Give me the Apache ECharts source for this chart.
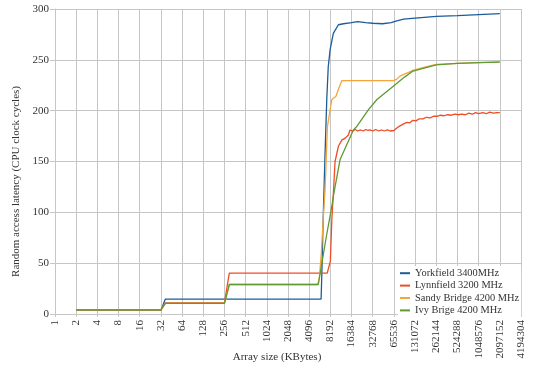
<!DOCTYPE html>
<html>
<head>
<meta charset="utf-8">
<script src="https://cdn.jsdelivr.net/npm/echarts@6/dist/echarts.min.js"></script>
<style>
  html, body { margin: 0; padding: 0; background: #fff; }
  #main { width: 540px; height: 376px; }
</style>
</head>
<body>
<div id="main"></div>
<script>
// array size in KBytes, latency in CPU clock cycles
var seriesNames = ['Yorkfield 3400MHz', 'Lynnfield 3200 MHz', 'Sandy Bridge 4200 MHz', 'Ivy Brige 4200 MHz'];
var colors = ['#1b5c9a', '#ee4d25', '#f4a63a', '#5f9a32'];

var yorkfieldX = [2, 32, 37, 6050, 6200, 6470, 6900, 7280, 7640, 8130, 9020, 10660, 12590, 16384, 20000, 26000, 32768, 45000, 60000, 70000, 90000, 131072, 262144, 524288, 1048576, 2097152];
var yorkfieldY = [3.5, 3.5, 14.7, 14.7, 40, 93, 160, 211, 243, 260, 276, 284.5, 285.5, 286.5, 287.5, 286.5, 286, 285.5, 286.5, 288, 290, 291, 292.8, 293.5, 294.5, 295.4];

var lynnfieldX = [2, 32, 37, 256, 300, 7400, 7800, 8192, 8596, 9090, 9551, 10660, 11910, 13305, 14770, 15600, 17000, 18500, 20000, 22000, 24000, 26000, 28000, 30000, 33000, 36000, 40000, 44000, 48000, 53000, 58000, 65536, 72000, 80000, 90000, 100000, 110000, 122000, 135000, 150000, 170000, 190000, 215000, 240000, 270000, 300000, 340000, 380000, 430000, 480000, 540000, 600000, 680000, 760000, 850000, 950000, 1048576, 1200000, 1350000, 1500000, 1700000, 1900000, 2097152];
var lynnfieldY = [4, 4, 11, 11, 40.3, 40.3, 42, 52, 93, 122, 150, 165, 171, 173, 176, 181, 180, 181.5, 180, 181, 180, 181.5, 180.5, 181, 180, 181.5, 180, 181, 180, 181, 180, 180.5, 183, 185, 187, 188.5, 188, 190.5, 190, 192, 192, 193.5, 193, 194.5, 194.5, 195.5, 195, 196, 195.5, 196.5, 196, 196.5, 196, 197.5, 196.5, 198, 197, 198, 197, 198.5, 197.5, 198, 198];

var sandyX = [2, 32, 37, 256, 300, 5400, 5700, 6100, 6500, 6889, 7433, 8130, 8596, 9000, 9800, 10660, 11910, 65536, 72000, 80000, 92000, 106000, 122000, 185000, 262144, 524288, 1048576, 2097152];
var sandyY = [4, 4, 10.5, 10.5, 29, 29, 35, 60, 95, 122, 184, 201, 211, 212, 214, 221, 229.5, 229.5, 231, 234, 236, 237.6, 239.6, 243, 245.5, 246.5, 247.3, 248];

var ivyX = [2, 32, 37, 256, 300, 5518, 6208, 7132, 8596, 9090, 11270, 17400, 19484, 28526, 37641, 65536, 92682, 122295, 262144, 524288, 1048576, 2097152];
var ivyY = [4, 4, 10.5, 10.5, 29, 29, 50, 75, 106, 117, 152, 181, 184.5, 201, 211, 224.5, 233, 239, 245, 246.5, 247.3, 247.8];

// x axis runs from 2^0 to 2^22 KBytes, one tick per power of two
var xMinPow = 0;
var xMaxPow = 22;
var yTicks = [0, 50, 100, 150, 200, 250, 300];

function pairs(xs, ys) {
  return xs.map(function (x, i) { return [Math.log2(x), ys[i]]; });
}

var allX = [yorkfieldX, lynnfieldX, sandyX, ivyX];
var allY = [yorkfieldY, lynnfieldY, sandyY, ivyY];

var font = 'Liberation Serif';
var gridColor = '#c6c6c6';

var chart = echarts.init(document.getElementById('main'));
chart.setOption({
  animation: false,
  color: colors,
  textStyle: { fontFamily: font },
  grid: { left: 55, right: 19, top: 9, bottom: 62 },
  legend: {
    orient: 'vertical',
    left: 398,
    top: 266,
    padding: [1, 2, 1, 2],
    backgroundColor: '#fff',
    itemGap: 0,
    itemWidth: 10,
    itemHeight: 2,
    icon: 'rect',
    textStyle: { fontFamily: font, fontSize: 10.4, color: '#333', lineHeight: 12.4 },
    data: seriesNames
  },
  xAxis: {
    type: 'value',
    min: xMinPow,
    max: xMaxPow,
    interval: 1,
    name: 'Array size (KBytes)',
    nameLocation: 'middle',
    nameGap: 38,
    nameMoveOverlap: false,
    nameTextStyle: { fontFamily: font, fontSize: 11, color: '#333', padding: [0, 22, 0, 0] },
    axisLine: { lineStyle: { color: gridColor } },
    axisTick: { show: true, length: 3, lineStyle: { color: gridColor } },
    splitLine: { show: true, lineStyle: { color: gridColor } },
    axisLabel: {
      rotate: 90,
      margin: 6,
      fontSize: 11,
      color: '#333',
      fontFamily: font,
      formatter: function (v) { return String(Math.pow(2, v)); }
    }
  },
  yAxis: {
    type: 'value',
    min: yTicks[0],
    max: yTicks[yTicks.length - 1],
    interval: 50,
    name: 'Random access latency (CPU clock cycles)',
    nameLocation: 'middle',
    nameGap: 32,
    nameTextStyle: { fontFamily: font, fontSize: 11, color: '#333', padding: [0, 40, 0, 0] },
    axisLine: { show: true, lineStyle: { color: gridColor } },
    axisTick: { show: true, length: 5, lineStyle: { color: gridColor } },
    splitLine: { lineStyle: { color: gridColor } },
    axisLabel: { fontSize: 11, color: '#333', fontFamily: font, margin: 6 }
  },
  series: seriesNames.map(function (name, i) {
    return {
      name: name,
      type: 'line',
      showSymbol: false,
      symbol: 'none',
      lineStyle: { width: 1.3 },
      data: pairs(allX[i], allY[i])
    };
  })
});
</script>
</body>
</html>
